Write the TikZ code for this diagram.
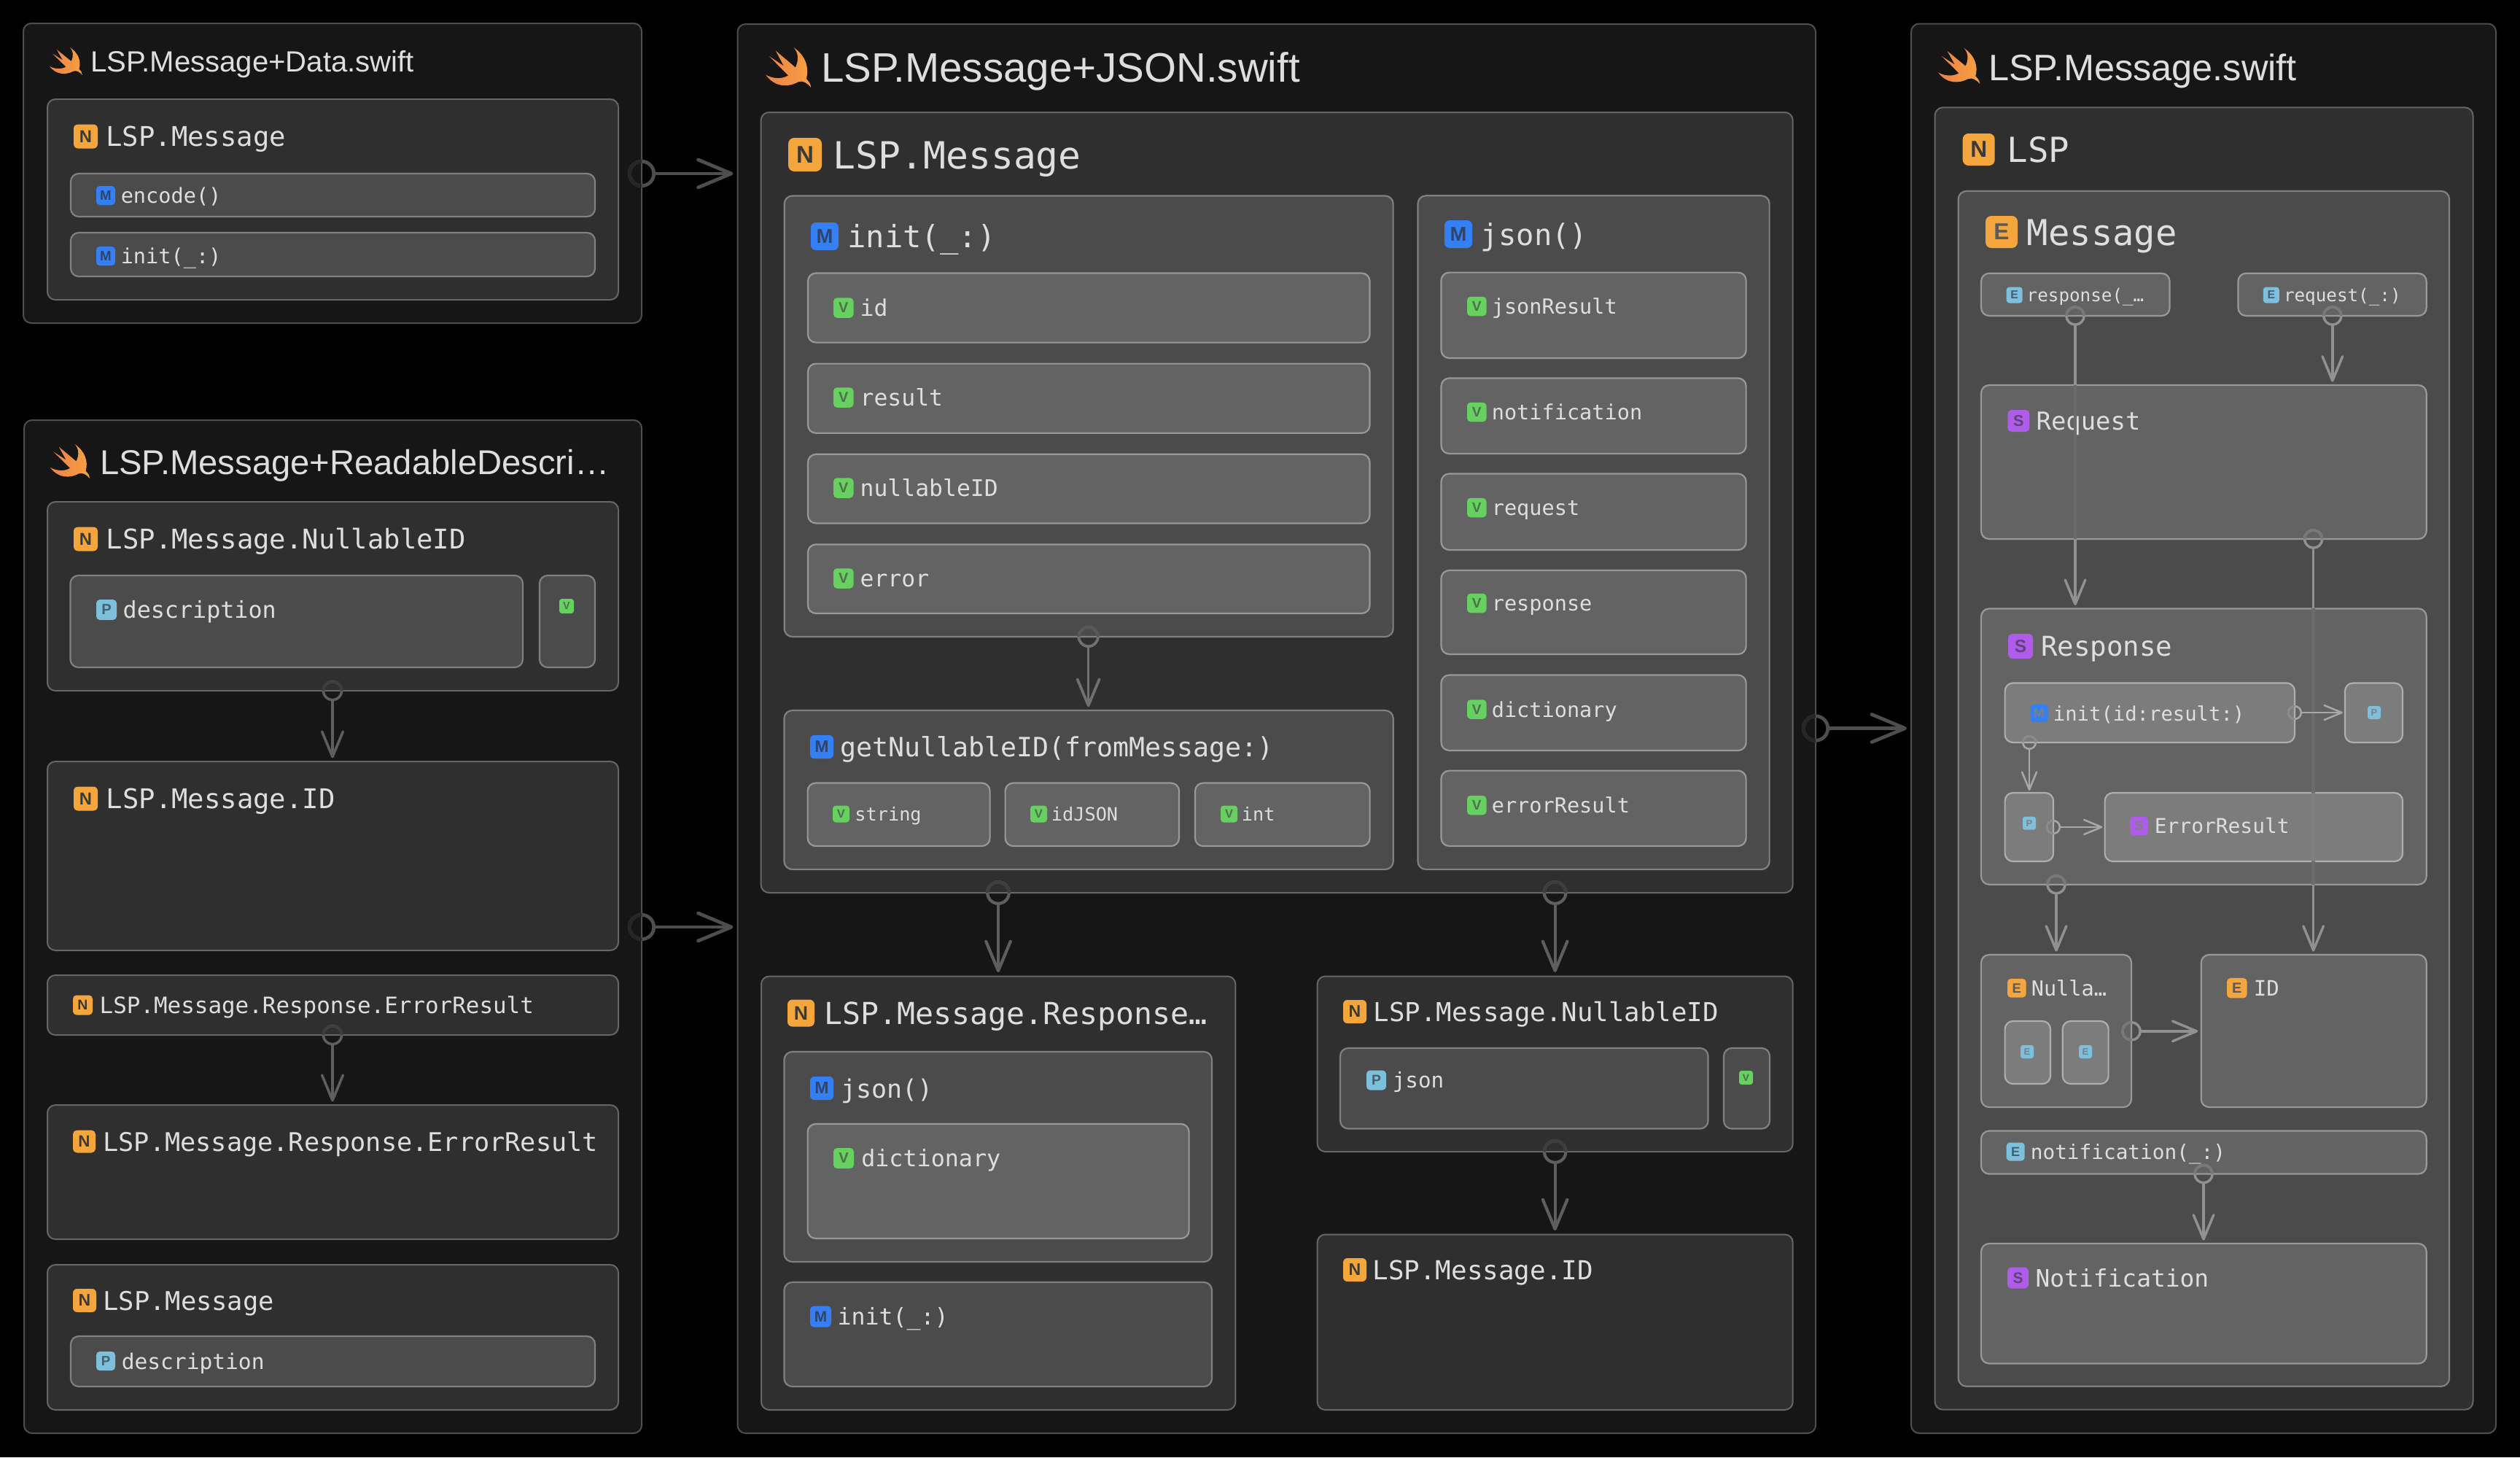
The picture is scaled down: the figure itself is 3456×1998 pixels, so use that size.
\documentclass[tikz,border=0pt]{standalone}
\usepackage{fontspec}
\setmainfont{Liberation Sans}
\setsansfont{Liberation Sans}
\setmonofont{DejaVu Sans Mono}
\usetikzlibrary{arrows.meta}
\definecolor{txt}{HTML}{DEDEDE}
\definecolor{bO}{HTML}{F4A63C}
\definecolor{bB}{HTML}{357FF5}
\definecolor{bG}{HTML}{66D15F}
\definecolor{bL}{HTML}{7CC0DC}
\definecolor{bP}{HTML}{AF5CEB}
\definecolor{lO}{HTML}{3A3A3A}
\definecolor{lE}{HTML}{5A5A5A}
\definecolor{lB}{HTML}{2F4468}
\definecolor{lG}{HTML}{4F6F4F}
\definecolor{lL}{HTML}{44606E}
\definecolor{lP}{HTML}{5F4478}
\definecolor{dimg}{HTML}{808080}
\definecolor{fa}{HTML}{161616}\definecolor{sa}{HTML}{4E4E4E}
\definecolor{fb}{HTML}{2F2F2F}\definecolor{sb}{HTML}{666666}
\definecolor{fc}{HTML}{4B4B4B}\definecolor{sc}{HTML}{808080}
\definecolor{fd}{HTML}{636363}\definecolor{sd}{HTML}{989898}
\definecolor{fe}{HTML}{7C7C7C}\definecolor{se}{HTML}{AEAEAE}
\definecolor{ca}{HTML}{4E4E4E}\definecolor{da}{HTML}{262626}
\definecolor{cb}{HTML}{5E5E5E}\definecolor{db}{HTML}{3E3E3E}
\definecolor{cc}{HTML}{707070}\definecolor{dc}{HTML}{585858}
\definecolor{cd}{HTML}{919191}\definecolor{dd}{HTML}{787878}
\definecolor{ce}{HTML}{A8A8A8}\definecolor{de}{HTML}{8A8A8A}
\definecolor{fadea}{HTML}{6B6B6B}
\definecolor{fadeb}{HTML}{6C6C6C}
\definecolor{fadec}{HTML}{7F7F7F}
\definecolor{swa}{HTML}{EE8248}
\definecolor{swb}{HTML}{F6A042}
\tikzset{
  boxbase/.style={rectangle,draw,rounded corners=5.5pt,inner sep=0pt,outer sep=0pt},
  lv0/.style={boxbase,fill=fa,draw=sa,line width=1pt},
  lv1/.style={boxbase,fill=fb,draw=sb,line width=1pt},
  lv2/.style={boxbase,fill=fc,draw=sc,line width=1.1pt},
  lv3/.style={boxbase,fill=fd,draw=sd,line width=1.1pt},
  lv4/.style={boxbase,fill=fe,draw=se,line width=1.1pt},
  cn0/.style={draw=ca},
  dm0/.style={draw=da},
  cn1/.style={draw=cb},
  dm1/.style={draw=db},
  cn2/.style={draw=cc},
  dm2/.style={draw=dc},
  cn3/.style={draw=cd},
  dm3/.style={draw=dd},
  cn4/.style={draw=ce},
  dm4/.style={draw=de},
  monolbl/.style={inner sep=0pt,outer sep=0pt,anchor=base west,text=txt},
  badgebox/.style={rectangle,inner sep=0pt,outer sep=0pt,anchor=west},
  filetitle/.style={inner sep=0pt,outer sep=0pt,anchor=base west,text=txt},
  fadeline/.style={line cap=butt,line width=2.3pt}
}
\newcounter{nid}
% box: name, x0,y0,x1,y1, level
\newcommand{\bx}[6]{%
  \pgfmathsetmacro\myw{(#4-#2)/2}\pgfmathsetmacro\myh{(#5-#3)/2}%
  \node[#6,minimum width=\myw pt,minimum height=\myh pt,anchor=north west] (#1) at (#2,#3) {};}
% monospaced label: x, ycentre, pitch, text
\newcommand{\lbl}[4]{%
  \stepcounter{nid}%
  \pgfmathsetmacro\myfs{#3/0.602/2}\pgfmathsetmacro\myyb{#2+0.62*#3}\pgfmathsetmacro\myxb{#1-0.07*#3}%
  \node[monolbl,font=\ttfamily\fontsize{\myfs pt}{\myfs pt}\selectfont] (t\thenid) at (\myxb,\myyb) {#4};}
% badge: x, ycentre, size, fill, letter colour, letter
\newcommand{\bdg}[6]{%
  \stepcounter{nid}%
  \pgfmathsetmacro\mys{#3/2}\pgfmathsetmacro\myf{#3*0.36}\pgfmathsetmacro\myr{#3*0.09}%
  \node[badgebox,fill=#4,text=#5,minimum width=\mys pt,minimum height=\mys pt,rounded corners=\myr pt,
        font=\sffamily\bfseries\fontsize{\myf pt}{\myf pt}\selectfont] (b\thenid) at (#1,#2) {#6};}
% title: x, baseline, px size, text
\newcommand{\ttl}[4]{%
  \stepcounter{nid}%
  \pgfmathsetmacro\myf{#3/2}%
  \node[filetitle,font=\fontsize{\myf pt}{\myf pt}\selectfont] (h\thenid) at (#1,#2) {#4};}
% swift bird: x0,y0,w,h
\newcommand{\swiftbird}[4]{%
  \pgfmathsetmacro\myu{#3/200}\pgfmathsetmacro\myv{#4/200}%
  \begin{scope}[shift={(#1,#2)},x=\myu pt,y=-\myv pt]
    \fill[left color=swa,right color=swb,draw=none]
      (0,68) .. controls (15,78) and (35,80) .. (50,70) -- (8,22) -- (40,46) -- (22,8)
      -- (66,50) .. controls (74,30) and (72,12) .. (62,0)
      .. controls (88,20) and (97,50) .. (90,78)
      .. controls (95,85) and (100,90) .. (100,100)
      .. controls (92,88) and (82,82) .. (72,86)
      .. controls (50,100) and (20,100) .. (0,68) -- cycle;
  \end{scope}}
% vertical connector: style no., r(pt), from, to, x
\newcommand{\vcon}[5]{%
  \pgfmathsetmacro\myl{#2*0.25}\pgfmathsetmacro\myal{#2*2.4}\pgfmathsetmacro\myaw{#2*2.0}\pgfmathsetmacro\mygap{#2*0.32}\pgfmathsetmacro\myc{#2*0.88}%
  \draw[cn#1,line width=\myl pt,shorten <=\myc pt,shorten >=\mygap pt,
        -{Straight Barb[round,length=\myal pt,width=\myaw pt]}] (#3.south -| #5,0) -- (#4.north -| #5,0);
  \draw[cn#1,line width=\myl pt] (#3.south -| #5,0) circle[radius=\myc pt];
  \draw[dm#1,line width=\myl pt] (#3.south -| #5,0) ++(\myc pt,0pt) arc[start angle=0,end angle=180,radius=\myc pt];}
% horizontal connector: style no., r(pt), from, to, y
\newcommand{\hcon}[5]{%
  \pgfmathsetmacro\myl{#2*0.25}\pgfmathsetmacro\myal{#2*2.4}\pgfmathsetmacro\myaw{#2*2.0}\pgfmathsetmacro\mygap{#2*0.32}\pgfmathsetmacro\myc{#2*0.88}%
  \draw[cn#1,line width=\myl pt,shorten <=\myc pt,shorten >=\mygap pt,
        -{Straight Barb[round,length=\myal pt,width=\myaw pt]}] (#3.east |- 0,#5) -- (#4.west |- 0,#5);
  \draw[cn#1,line width=\myl pt] (#3.east |- 0,#5) circle[radius=\myc pt];
  \draw[dm#1,line width=\myl pt] (#3.east |- 0,#5) ++(0pt,\myc pt) arc[start angle=90,end angle=270,radius=\myc pt];}
\begin{document}
\begin{tikzpicture}[x=0.5pt,y=-0.5pt]
\fill[black] (0,0) rectangle (3456,1998);
\useasboundingbox (0,0) rectangle (3456,1998);

% ---------- File 1
\bx{fdata}{32}{32}{880}{443}{lv0}
\swiftbird{68}{65}{45}{38}
\ttl{124}{98}{40.1}{LSP.Message+Data.swift}
\bx{dmsg}{65}{136}{848}{411}{lv1}
\bdg{101}{187}{33}{bO}{lO}{N}
\lbl{147}{187}{22.4}{LSP.Message}
\bx{dencode}{97}{238}{816}{297}{lv2}
\bdg{132}{268}{26}{bB}{lB}{M}
\lbl{167}{268}{17.2}{encode()}
\bx{dinit}{97}{319}{816}{379}{lv2}
\bdg{132}{351}{26}{bB}{lB}{M}
\lbl{167}{351}{17.2}{init(\_:)}

% ---------- File 2
\bx{fread}{33}{576}{880}{1965}{lv0}
\swiftbird{69}{609}{54}{47}
\ttl{137}{650}{47.2}{LSP.Message+ReadableDescri…}
\bx{rnull}{65}{688}{848}{947}{lv1}
\bdg{101}{739}{33}{bO}{lO}{N}
\lbl{147.5}{739}{22.4}{LSP.Message.NullableID}
\bx{rdesc}{96.5}{789}{717}{915}{lv2}
\bdg{132}{836}{28}{bL}{lL}{P}
\lbl{170}{836}{19.1}{description}
\bx{rv}{740}{789}{816}{915}{lv2}
\bdg{767}{831}{20}{bG}{lG}{V}
\bx{rid}{65}{1044}{848}{1303}{lv1}
\bdg{101}{1095}{33}{bO}{lO}{N}
\lbl{147.5}{1095}{22.4}{LSP.Message.ID}
\bx{rerr}{65}{1337}{848}{1419}{lv1}
\bdg{100}{1378}{27}{bO}{lO}{N}
\lbl{138}{1378}{18.6}{LSP.Message.Response.ErrorResult}
\bx{rerrb}{65}{1515}{848}{1699}{lv1}
\bdg{100}{1565}{31}{bO}{lO}{N}
\lbl{143}{1565}{21.2}{LSP.Message.Response.ErrorResult}
\bx{rmsg}{65}{1734}{848}{1933}{lv1}
\bdg{100}{1783}{32}{bO}{lO}{N}
\lbl{143}{1783}{21.3}{LSP.Message}
\bx{rdescb}{97}{1832}{816}{1901}{lv2}
\bdg{132}{1866}{26}{bL}{lL}{P}
\lbl{168}{1866}{17.8}{description}

% ---------- File 3 (JSON)
\bx{fjson}{1011.5}{33}{2490}{1965}{lv0}
\swiftbird{1050}{65}{62}{55}
\ttl{1126}{112}{56.5}{LSP.Message+JSON.swift}
\bx{jmsg}{1043.6}{154}{2458.7}{1224}{lv1}
\bdg{1081}{212}{46}{bO}{lO}{N}
\lbl{1145}{212}{30.9}{LSP.Message}
\bx{jinit}{1075.7}{268.5}{1910.6}{873}{lv2}
\bdg{1112}{324}{38}{bB}{lB}{M}
\lbl{1164}{324}{25.4}{init(\_:)}
\bx{jid}{1108}{374.5}{1878.5}{469.6}{lv3}
\bdg{1143}{422}{27.5}{bG}{lG}{V}
\lbl{1181}{422}{18.9}{id}
\bx{jres}{1108}{498.6}{1878.5}{593.8}{lv3}
\bdg{1143}{545}{27.5}{bG}{lG}{V}
\lbl{1181}{545}{18.9}{result}
\bx{jnid}{1108}{622.8}{1878.5}{717.4}{lv3}
\bdg{1143}{669}{27.5}{bG}{lG}{V}
\lbl{1181}{669}{18.9}{nullableID}
\bx{jerr}{1108}{746.4}{1878.5}{841}{lv3}
\bdg{1143}{793}{27.5}{bG}{lG}{V}
\lbl{1181}{793}{18.9}{error}
\bx{jjson}{1944.5}{268.3}{2426.6}{1192}{lv2}
\bdg{1981}{321}{38}{bB}{lB}{M}
\lbl{2032.5}{321}{24.4}{json()}
\bx{jj1}{1976.5}{373.6}{2394.6}{491}{lv3}
\bdg{2012}{420}{26.5}{bG}{lG}{V}
\lbl{2047}{420}{17.2}{jsonResult}
\bx{jj2}{1976.5}{518.5}{2394.6}{622}{lv3}
\bdg{2012}{565}{26.5}{bG}{lG}{V}
\lbl{2047}{565}{17.2}{notification}
\bx{jj3}{1976.5}{649.5}{2394.6}{754}{lv3}
\bdg{2012}{696}{26.5}{bG}{lG}{V}
\lbl{2047}{696}{17.2}{request}
\bx{jj4}{1976.5}{782}{2394.6}{897}{lv3}
\bdg{2012}{827}{26.5}{bG}{lG}{V}
\lbl{2047}{827}{17.2}{response}
\bx{jj5}{1976.5}{925.5}{2394.6}{1029}{lv3}
\bdg{2012}{972.5}{26.5}{bG}{lG}{V}
\lbl{2047}{972.5}{17.2}{dictionary}
\bx{jj6}{1976.5}{1056.6}{2394.6}{1160}{lv3}
\bdg{2012}{1104}{26.5}{bG}{lG}{V}
\lbl{2047}{1104}{17.2}{errorResult}
\bx{jget}{1075.5}{974}{1910.7}{1192}{lv2}
\bdg{1111}{1024}{32}{bB}{lB}{M}
\lbl{1154}{1024}{22}{getNullableID(fromMessage:)}
\bx{jstr}{1107.6}{1073.5}{1357.6}{1160}{lv3}
\bdg{1142}{1116}{23}{bG}{lG}{V}
\lbl{1173.5}{1116}{15.2}{string}
\bx{jidj}{1378.6}{1073.5}{1617}{1160}{lv3}
\bdg{1413}{1116}{23}{bG}{lG}{V}
\lbl{1443}{1116}{15.2}{idJSON}
\bx{jint}{1639}{1073.5}{1878.6}{1160}{lv3}
\bdg{1674}{1116}{23}{bG}{lG}{V}
\lbl{1704}{1116}{15.2}{int}
\bx{jresp}{1044}{1338.5}{1694.4}{1933}{lv1}
\bdg{1080}{1389}{37}{bO}{lO}{N}
\lbl{1132}{1389}{25}{LSP.Message.Response…}
\bx{jrj}{1075.5}{1442}{1662}{1730}{lv2}
\bdg{1111}{1492}{32}{bB}{lB}{M}
\lbl{1154.6}{1492}{21}{json()}
\bx{jrd}{1107.6}{1541}{1630.6}{1698}{lv3}
\bdg{1143}{1588}{28}{bG}{lG}{V}
\lbl{1182.6}{1588}{19.1}{dictionary}
\bx{jri}{1075.5}{1758}{1662}{1901}{lv2}
\bdg{1111}{1805}{29}{bB}{lB}{M}
\lbl{1150}{1805}{19}{init(\_:)}
\bx{jnull}{1806.6}{1338.5}{2458.7}{1579}{lv1}
\bdg{1842}{1387}{32}{bO}{lO}{N}
\lbl{1885}{1387}{21.5}{LSP.Message.NullableID}
\bx{jnj}{1838}{1437}{2342.5}{1547.5}{lv2}
\bdg{1874}{1481}{27}{bL}{lL}{P}
\lbl{1911}{1481}{17.6}{json}
\bx{jnv}{2364}{1437}{2427}{1547.5}{lv2}
\bdg{2385}{1477.5}{19}{bG}{lG}{V}
\bx{jmid}{1806.6}{1692.5}{2458.7}{1933}{lv1}
\bdg{1842}{1741}{32}{bO}{lO}{N}
\lbl{1884}{1741}{21.6}{LSP.Message.ID}

% ---------- File 4
\bx{fmsg}{2621}{32.5}{3423}{1965}{lv0}
\swiftbird{2658}{66}{57}{49}
\ttl{2727}{110.5}{50.5}{LSP.Message.swift}
\bx{mlsp}{2653.5}{147.4}{3391.5}{1932.7}{lv1}
\bdg{2691.7}{205}{44}{bO}{lO}{N}
\lbl{2754.5}{205}{28.5}{LSP}
\bx{mmsg}{2685.7}{262}{3359}{1900.7}{lv2}
\bdg{2723}{318}{44}{bO}{lE}{E}
\lbl{2782}{318}{29.4}{Message}
\bx{mresp}{2717}{374.7}{2975.5}{433}{lv3}
\bdg{2751.7}{404.5}{22}{bL}{lL}{E}
\lbl{2780.7}{404.5}{14.6}{response(\_…}
\bx{mreq}{3069.4}{374.7}{3327.6}{433}{lv3}
\bdg{3103.8}{404.5}{22}{bL}{lL}{E}
\lbl{3133}{404.5}{14.6}{request(\_:)}
\bx{sreq}{2717}{528}{3327.6}{739}{lv3}
\bdg{2753.4}{577}{30}{bP}{lP}{S}
\lbl{2794}{577}{20.4}{Request}
\bx{sresp}{2717}{834.4}{3327.6}{1212.7}{lv3}
\bdg{2754}{886}{34}{bP}{lP}{S}
\lbl{2801}{886}{22.5}{Response}
\bx{sinit}{2749.6}{936.5}{3147}{1018}{lv4}
\bdg{2784.5}{978}{24}{bB}{dimg}{M}
\lbl{2817}{978}{16.4}{init(id:result:)}
\bx{spa}{3216}{936.5}{3295}{1018}{lv4}
\bdg{3247}{977}{18}{bL}{dimg}{P}
\bx{spb}{2749.6}{1087}{2816}{1181}{lv4}
\bdg{2774}{1128.7}{18}{bL}{dimg}{P}
\bx{serr}{2886.6}{1087}{3295}{1181}{lv4}
\bdg{2921}{1132.5}{25}{bP}{dimg}{S}
\lbl{2956}{1132.5}{16.8}{ErrorResult}
\bx{enull}{2717}{1309}{2923}{1518}{lv3}
\bdg{2753}{1354.7}{25.6}{bO}{lE}{E}
\lbl{2787}{1354.7}{17.2}{Nulla…}
\bx{eea}{2749.6}{1400}{2812}{1486}{lv4}
\bdg{2771}{1442}{18}{bL}{dimg}{E}
\bx{eeb}{2828.7}{1400}{2891.6}{1486}{lv4}
\bdg{2851}{1442}{18}{bL}{dimg}{E}
\bx{eid}{3018.7}{1309}{3327.6}{1518}{lv3}
\bdg{3054}{1354.7}{27.5}{bO}{lE}{E}
\lbl{3092}{1354.7}{17.5}{ID}
\bx{enot}{2717}{1550.5}{3327.6}{1609.5}{lv3}
\bdg{2751.7}{1579}{25}{bL}{lL}{E}
\lbl{2786}{1579}{16.7}{notification(\_:)}
\bx{snot}{2717}{1705}{3327.6}{1869.5}{lv3}
\bdg{2753}{1752}{29}{bP}{lP}{S}
\lbl{2793}{1752}{19.8}{Notification}

% ---------- Connectors
\hcon{0}{9.5}{fdata}{fjson}{238}
\hcon{0}{9.5}{fread}{fjson}{1271}
\hcon{0}{9.5}{fjson}{fmsg}{998.5}
\vcon{1}{7.2}{rnull}{rid}{456}
\vcon{1}{7.2}{rerr}{rerrb}{456}
\vcon{2}{7.5}{jinit}{jget}{1492.6}
\vcon{1}{8.4}{jmsg}{jresp}{1369}
\vcon{1}{8.4}{jmsg}{jnull}{2132.6}
\vcon{1}{8.4}{jnull}{jmid}{2132.6}
\vcon{3}{6.9}{mresp}{sresp}{2846}
\vcon{3}{6.9}{mreq}{sreq}{3198.8}
\vcon{3}{6.9}{sreq}{eid}{3172.6}
\vcon{3}{6.9}{sresp}{enull}{2820}
\vcon{3}{6.9}{enot}{snot}{3022}
% connector parts seen faintly through the boxes they cross
\draw[fadeline,draw=fadea] (sreq.north -| 2846,0) -- (sreq.south -| 2846,0);
\draw[fadeline,draw=fadeb] (sresp.north -| 3172.6,0) -- (serr.north -| 3172.6,0);
\draw[fadeline,draw=fadec] (serr.north -| 3172.6,0) -- (serr.south -| 3172.6,0);
\draw[fadeline,draw=fadeb] (serr.south -| 3172.6,0) -- (sresp.south -| 3172.6,0);
\hcon{4}{5}{sinit}{spa}{977}
\vcon{4}{5}{sinit}{spb}{2783}
\hcon{4}{5}{spb}{serr}{1134}
\hcon{3}{6.9}{enull}{eid}{1413.8}
\end{tikzpicture}
\end{document}
